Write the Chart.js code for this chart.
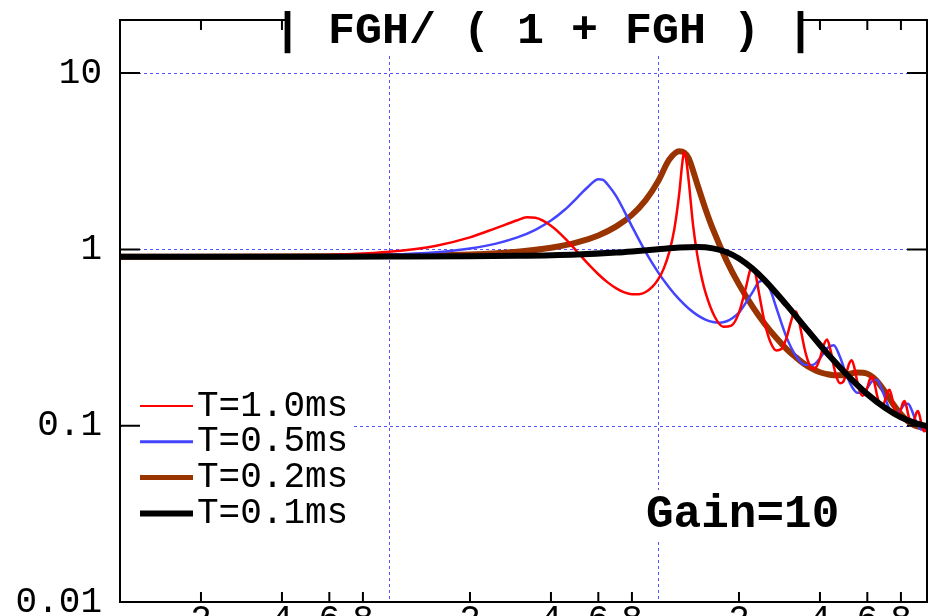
<!DOCTYPE html>
<html><head><meta charset="utf-8">
<script src="https://cdn.jsdelivr.net/npm/chart.js@4.4.1/dist/chart.umd.min.js"></script>
<style>
html,body{margin:0;padding:0;overflow:hidden;background:#fff;width:936px;height:616px;}
#wrap{position:relative;width:936px;height:660px;}
canvas{display:block;}
</style></head><body>
<div id="wrap"><canvas id="c" width="936" height="660"></canvas></div>
<script>
// ---- data (frequency in Hz, magnitude |FGH/(1+FGH)|) ----
const freqRed=[10,20,30,50,70,100,150,200,250,300,325,350,400,450,500,550,600,650,700,750,800,850,900,950,1000,1050,1100,1150,1200,1230,1250,1270,1300,1350,1400,1450,1500,1625,1750,1875,2000,2125,2200,2250,2300,2375,2500,2625,2750,2875,3000,3125,3200,3250,3300,3375,3500,3625,3750,3875,4000,4125,4250,4375,4500,4625,4750,4875,5000,5125,5250,5375,5500,5625,5750,5875,6000,6125,6250,6375,6500,6625,6750,6875,7000,7125,7250,7375,7500,7625,7750,7875,8000,8125,8250,8375,8500,8625,8750,8875,9000,9125,9250,9375,9500,9625,9750,9875,10000];
const magRed=[0.909,0.912,0.914,0.923,0.938,0.969,1.050,1.170,1.321,1.462,1.52,1.51,1.363,1.160,0.971,0.827,0.723,0.650,0.601,0.570,0.556,0.557,0.573,0.610,0.673,0.778,0.959,1.303,2.09,3.05,3.55,3.3,2.46,1.372,0.928,0.703,0.572,0.415,0.364,0.370,0.438,0.613,0.761,0.797,0.733,0.563,0.376,0.295,0.267,0.272,0.313,0.392,0.4375,0.444,0.424,0.365,0.277,0.229,0.210,0.215,0.241,0.285,0.308,0.269,0.218,0.186,0.174,0.177,0.195,0.223,0.235,0.212,0.179,0.157,0.148,0.151,0.164,0.183,0.190,0.175,0.152,0.136,0.129,0.131,0.141,0.155,0.160,0.149,0.132,0.120,0.114,0.116,0.124,0.134,0.138,0.130,0.117,0.107,0.1026,0.104,0.110,0.118,0.121,0.115,0.105,0.0966,0.0930,0.0942,0.0994];

const freqBlue=[10,50,100,150,200,250,300,350,400,450,500,550,600,625,650,700,750,800,900,1000,1100,1200,1300,1400,1500,1600,1700,1800,1900,2000,2250,2375,2500,2625,2750,3000,3250,3500,3750,4000,4250,4500,4750,5000,5250,5500,5750,6000,6250,6500,6750,7000,7250,7500,7750,8000,8250,8500,8750,9000,9250,9500,9750,10000];
const magBlue=[0.909,0.915,0.933,0.964,1.012,1.078,1.169,1.291,1.457,1.678,1.961,2.266,2.50,2.48,2.335,2.0,1.643,1.351,0.965,0.743,0.608,0.520,0.462,0.424,0.400,0.387,0.384,0.391,0.409,0.438,0.574,0.654,0.665,0.580,0.469,0.319,0.250,0.222,0.221,0.241,0.275,0.286,0.245,0.197,0.167,0.154,0.154,0.164,0.179,0.182,0.165,0.142,0.125,0.118,0.118,0.124,0.132,0.133,0.124,0.1106,0.1003,0.0952,0.0953,0.0994];

const freqBrown=[10,100,200,300,400,500,600,700,800,900,1000,1100,1200,1250,1300,1400,1500,1600,1800,2000,2250,2500,2750,3000,3250,3500,3750,4000,4250,4500,4750,5000,5500,6000,6250,6500,7000,7500,8000,8500,9000,9500,10000];
const magBrown=[0.909,0.916,0.935,0.969,1.021,1.095,1.200,1.350,1.569,1.902,2.427,3.220,3.6,3.55,3.29,2.343,1.702,1.302,0.861,0.633,0.472,0.376,0.315,0.273,0.245,0.224,0.210,0.201,0.196,0.1935,0.1935,0.195,0.200,0.197,0.190,0.180,0.155,0.132,0.116,0.1058,0.1004,0.0987,0.0994];

const freqBlack=[10,20,50,100,200,300,500,700,800,1000,1200,1400,1600,1800,2000,2250,2500,3000,3500,4000,4500,5000,6000,7000,8000,9000,10000];
const magBlack=[0.909,0.909,0.909,0.910,0.913,0.919,0.936,0.960,0.974,1.002,1.024,1.031,1.013,0.963,0.888,0.776,0.665,0.486,0.366,0.287,0.234,0.197,0.151,0.126,0.1116,0.1038,0.0994];

const seriesLabels=['T=1.0ms','T=0.5ms','T=0.2ms','T=0.1ms'];
const yMajorLabels=['0.01','0.1','1','10'];   // for 1e-2 .. 1e1
const xMinorLabelDigits=[2,4,6,8];
const gridYValues=[0.1,1,10];
const gridXValues=[100,1000];
const titleText='| FGH/ ( 1 + FGH ) |';
const gainText='Gain=10';

// ---- styles ----
const colors=['#ff0000','#4444ff','#993300','#000000'];
const widths=[2.5,2.5,6,6];
const legendWidths=[2,3,5,6];
const MONO='"Liberation Mono", "DejaVu Sans Mono", monospace';

function pts(fx,fy){return fx.map((f,i)=>({x:f,y:fy[i]}));}
function isMajor(v){const l=Math.log10(v);return Math.abs(l-Math.round(l))<1e-6;}

const series=[[freqRed,magRed],[freqBlue,magBlue],[freqBrown,magBrown],[freqBlack,magBlack]];
const drawOrder=[1,2,3,0];

const decor={
  id:'decor',
  beforeDatasetsDraw(chart){
    const {ctx,chartArea:a,scales:{x,y}}=chart;
    ctx.save();
    ctx.strokeStyle='#5555ff';ctx.lineWidth=1;ctx.setLineDash([3,3]);
    ctx.beginPath();
    for(const v of gridYValues){const p=Math.round(y.getPixelForValue(v))+0.5;ctx.moveTo(a.left,p);ctx.lineTo(a.right,p);}
    for(const v of gridXValues){const p=Math.round(x.getPixelForValue(v))+0.5;ctx.moveTo(p,a.top);ctx.lineTo(p,a.bottom);}
    ctx.stroke();
    ctx.restore();
  },
  afterDatasetsDraw(chart){
    const {ctx,chartArea:a,scales:{x,y}}=chart;
    ctx.save();
    ctx.setLineDash([]);
    // white backgrounds for legend and gain label
    ctx.fillStyle='#fff';
    ctx.fillRect(a.left+2,384,232,148);
    ctx.fillRect(638,490,210,50);
    // frame
    ctx.strokeStyle='#000';ctx.lineWidth=2;
    ctx.strokeRect(a.left,a.top,a.right-a.left,a.bottom-a.top);
    ctx.beginPath();
    for(const t of y.ticks){
      const p=y.getPixelForValue(t.value);
      if(p<a.top+1||p>a.bottom-1)continue;
      const len=isMajor(t.value)?20:11;
      ctx.moveTo(a.left,p);ctx.lineTo(a.left+len,p);
      ctx.moveTo(a.right,p);ctx.lineTo(a.right-len,p);
    }
    for(const t of x.ticks){
      const p=x.getPixelForValue(t.value);
      if(p<a.left+1||p>a.right-1)continue;
      const maj=isMajor(t.value);
      ctx.moveTo(p,a.bottom);ctx.lineTo(p,a.bottom-(maj?21:10));
      ctx.moveTo(p,a.top);ctx.lineTo(p,a.top+(maj?21:10));
    }
    ctx.stroke();
    // title
    ctx.fillStyle='#fff';ctx.fillRect(285,0,516,54);
    ctx.fillStyle='#000';ctx.textAlign='left';ctx.textBaseline='alphabetic';
    ctx.font='bold 45px '+MONO;
    ctx.fillText(titleText,274,43);
    // legend
    ctx.font='36px '+MONO;ctx.textBaseline='middle';
    for(let i=0;i<seriesLabels.length;i++){
      const yy=406+35.8*i;
      ctx.strokeStyle=colors[i];ctx.lineWidth=legendWidths[i];
      ctx.beginPath();ctx.moveTo(140,yy);ctx.lineTo(193,yy);ctx.stroke();
      ctx.fillStyle='#000';ctx.fillText(seriesLabels[i],197,yy);
    }
    // gain
    ctx.textBaseline='alphabetic';
    ctx.font='bold 46px '+MONO;
    ctx.fillText(gainText,646,527);
    ctx.restore();
  }
};

new Chart(document.getElementById('c'),{
  type:'line',
  data:{datasets:series.map((s,i)=>({
    label:seriesLabels[i],data:pts(s[0],s[1]),
    borderColor:colors[i],borderWidth:widths[i],pointRadius:0,fill:false,
    cubicInterpolationMode:'monotone',borderJoinStyle:'round',borderCapStyle:'round',
    order:drawOrder[i]
  }))},
  options:{
    responsive:false,animation:false,devicePixelRatio:1,events:[],
    layout:{padding:{top:20,right:9,left:0,bottom:0}},
    plugins:{legend:{display:false},tooltip:{enabled:false},title:{display:false}},
    scales:{
      x:{type:'logarithmic',min:10,max:10000,
        grid:{display:false,drawTicks:false},border:{display:false},
        afterFit(s){s.height=58;s.paddingLeft=0;s.paddingRight=0;},
        ticks:{autoSkip:false,maxRotation:0,minRotation:0,padding:0,color:'#000',
          font:{family:MONO,size:36,lineHeight:1},
          callback(v){const e=Math.floor(Math.log10(v)+1e-9);const m=v/Math.pow(10,e);const r=Math.round(m);
            return (Math.abs(m-r)<1e-6&&xMinorLabelDigits.includes(r))?String(r):null;}}},
      y:{type:'logarithmic',min:0.01,max:20,
        grid:{display:false,drawTicks:false},border:{display:false},
        afterFit(s){s.width=120;s.paddingTop=0;s.paddingBottom=0;},
        ticks:{autoSkip:false,padding:18,color:'#000',font:{family:MONO,size:36},
          callback(v){if(!isMajor(v))return null;const i=Math.round(Math.log10(v))+2;return yMajorLabels[i]!==undefined?yMajorLabels[i]:null;}}}
    }
  },
  plugins:[decor]
});
</script>
</body></html>
